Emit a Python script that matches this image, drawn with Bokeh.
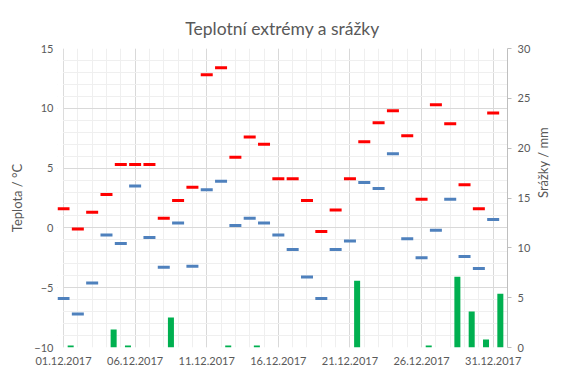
import math
from bokeh.plotting import figure
from bokeh.models import Range1d, LinearAxis, FixedTicker, ColumnDataSource, BoxAnnotation
from bokeh.transform import dodge
from bokeh.embed import file_html
from bokeh.resources import INLINE

days = list(range(1, 32))
tmax = [1.6, -0.1, 1.3, 2.8, 5.3, 5.3, 5.3, 0.8, 2.3, 3.4,
        12.8, 13.4, 5.9, 7.6, 7.0, 4.1, 4.1, 2.3, -0.3, 1.5,
        4.1, 7.2, 8.8, 9.8, 7.7, 2.4, 10.3, 8.7, 3.6, 1.6, 9.6]
tmin = [-5.9, -7.2, -4.6, -0.6, -1.3, 3.5, -0.8, -3.3, 0.4, -3.2,
        3.2, 3.9, 0.2, 0.8, 0.4, -0.6, -1.8, -4.1, -5.9, -1.8,
        -1.1, 3.8, 3.3, 6.2, -0.9, -2.5, -0.2, 2.4, -2.4, -3.4, 0.7]
precip = [0.2, 0, 0, 1.8, 0.2, 0, 0, 3.0, 0, 0,
          0, 0.2, 0, 0.2, 0, 0, 0, 0, 0, 0,
          6.7, 0, 0, 0, 0, 0.2, 0, 7.1, 3.6, 0.8, 5.4]
tick_days = [1, 6, 11, 16, 21, 26, 31]
tick_labels = ["01.12.2017", "06.12.2017", "11.12.2017", "16.12.2017",
               "21.12.2017", "26.12.2017", "31.12.2017"]
temp_ticks = [-10, -5, 0, 5, 10, 15]
precip_ticks = [0, 5, 10, 15, 20, 25, 30]

src = ColumnDataSource(dict(day=days, tmax=tmax, tmin=tmin, precip=precip))

FONT = "Lato"
GREY = "#595959"

p = figure(width=567, height=378, output_backend="svg", toolbar_location=None,
           x_range=Range1d(0.58, 32), y_range=Range1d(-10, 15),
           min_border_left=57, min_border_right=60, min_border_top=48,
           min_border_bottom=31, background_fill_color="white",
           border_fill_color="white", outline_line_color=None)
p.extra_y_ranges = {"p": Range1d(0, 30)}

p.title.text = "Teplotní extrémy a srážky"
p.title.align = "center"
p.title.offset = 3
p.title.text_font = FONT
p.title.text_font_size = "17.5px"
p.title.text_font_style = "normal"
p.title.text_color = GREY
p.title.standoff = 20

# grids
p.xgrid.ticker = FixedTicker(ticks=tick_days, minor_ticks=days + [32])
p.xgrid.grid_line_color = "#d9d9d9"
p.xgrid.minor_grid_line_color = "#efefef"
p.ygrid.ticker = FixedTicker(ticks=temp_ticks, minor_ticks=list(range(-10, 16)))
p.ygrid.grid_line_color = "#d9d9d9"
p.ygrid.minor_grid_line_color = "#efefef"

# blank strip left of the first day so grid lines start at 01.12.
p.add_layout(BoxAnnotation(right=0.97, fill_color="white", fill_alpha=1,
                           line_color=None, level="underlay"))

# x axis
p.xaxis.ticker = FixedTicker(ticks=tick_days)
p.xaxis.major_label_overrides = dict(zip(tick_days, tick_labels))
p.xaxis.major_tick_out = 0
p.xaxis.major_tick_in = 0
p.xaxis.minor_tick_out = 0
p.xaxis.minor_tick_in = 0
p.xaxis.axis_line_color = None
p.xaxis.major_label_standoff = 9
p.xaxis.major_label_text_font = FONT
p.xaxis.major_label_text_font_size = "11px"
p.xaxis.major_label_text_color = GREY

# left axis
p.yaxis.ticker = FixedTicker(ticks=temp_ticks)
p.yaxis.major_tick_out = 0
p.yaxis.major_tick_in = 0
p.yaxis.minor_tick_out = 0
p.yaxis.minor_tick_in = 0
p.yaxis.axis_line_color = None
p.yaxis.major_label_standoff = 4
p.yaxis.major_label_text_font = FONT
p.yaxis.major_label_text_font_size = "11px"
p.yaxis.major_label_text_color = GREY
p.yaxis.axis_label = "Teplota / °C"
p.yaxis.axis_label_text_font = FONT
p.yaxis.axis_label_text_font_size = "13px"
p.yaxis.axis_label_text_font_style = "normal"
p.yaxis.axis_label_text_color = GREY
p.yaxis.axis_label_standoff = 6

# right axis
ra = LinearAxis(y_range_name="p", ticker=FixedTicker(ticks=precip_ticks),
                axis_label="Srážky / mm")
ra.major_tick_out = 4
ra.major_tick_in = 0
ra.minor_tick_out = 0
ra.minor_tick_in = 0
ra.major_tick_line_color = "#bfbfbf"
ra.axis_line_color = "#bfbfbf"
ra.major_label_standoff = 6
ra.major_label_text_font = FONT
ra.major_label_text_font_size = "11px"
ra.major_label_text_color = GREY
ra.axis_label_orientation = math.pi / 2
ra.axis_label_text_font = FONT
ra.axis_label_text_font_size = "13px"
ra.axis_label_text_font_style = "normal"
ra.axis_label_text_color = GREY
ra.axis_label_standoff = 10
p.add_layout(ra, "right")

# precipitation bars (secondary axis), shifted half a day
p.vbar(x=dodge("day", 0.5, range=p.x_range), top="precip", bottom=0, width=0.42,
       source=src, y_range_name="p", fill_color="#00B050", line_color=None)

# temperature extremes as dash markers
p.scatter(x="day", y="tmin", source=src, marker="dash", size=12, line_width=3,
          line_color="#4F81BD")
p.scatter(x="day", y="tmax", source=src, marker="dash", size=12, line_width=3,
          line_color="#FF0000")

open("out.html", "w").write(file_html(p, INLINE))
